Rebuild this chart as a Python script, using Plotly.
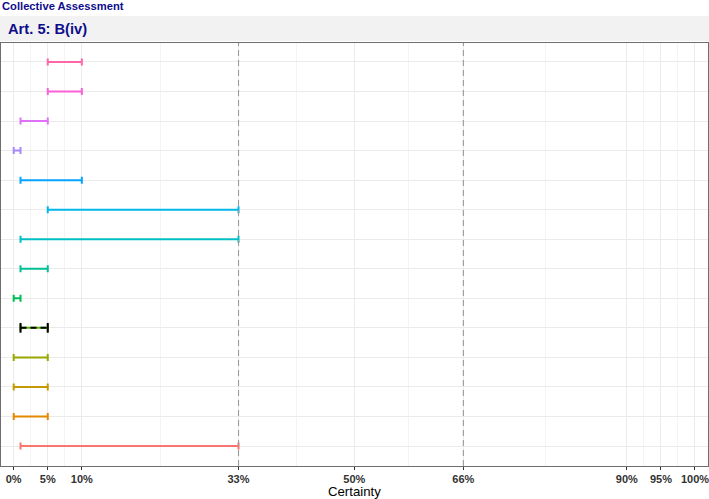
import plotly.graph_objects as go

# ---- data (top row first) ----
rows = [f"Item {i}" for i in range(1, 15)]
lows = [5, 5, 1, 0, 1, 5, 1, 1, 0, 1, 0, 0, 0, 1]
highs = [10, 10, 5, 1, 10, 33, 33, 5, 1, 5, 5, 5, 5, 33]
colors = ["#FF66A8", "#FB61D7", "#DF70F8", "#A58AFF", "#06A4FF", "#00B6EB",
          "#00BFC4", "#00C094", "#00BC56", "#53B400", "#99A800", "#C49A00",
          "#E38900", "#F8766D"]
dashed_black_row = "Item 10"   # row overlaid by a black dashed interval
tick_vals = [0, 5, 10, 33, 50, 66, 90, 95, 100]
tick_text = ["0%", "5%", "10%", "33%", "50%", "66%", "90%", "95%", "100%"]
minor_vals = [2.5, 7.5, 21.5, 41.5, 58, 78, 92.5, 97.5]
ref_lines = [33, 66]

n = len(rows)
ypos = {r: n - i for i, r in enumerate(rows)}  # top row -> highest y

fig = go.Figure()
for v in ref_lines:
    fig.add_shape(type="line", xref="x", yref="paper", x0=v, x1=v, y0=0, y1=1,
                  line=dict(color="#9A9A9A", width=1.1, dash="6px,4px"), layer="above")

for r, lo, hi, c in zip(rows, lows, highs, colors):
    fig.add_trace(go.Scatter(
        x=[lo], y=[ypos[r]], mode="markers",
        marker=dict(size=1, opacity=0, color=c),
        error_x=dict(type="data", symmetric=False, array=[hi - lo], arrayminus=[0],
                     color=c, thickness=2, width=3.5),
        showlegend=False, hoverinfo="skip"))
    if r == dashed_black_row:
        fig.add_trace(go.Scatter(
            x=[lo, hi], y=[ypos[r], ypos[r]], mode="lines",
            line=dict(color="black", width=2, dash="6px,4px"),
            showlegend=False, hoverinfo="skip"))
        fig.add_trace(go.Scatter(
            x=[lo, hi], y=[ypos[r], ypos[r]], mode="markers",
            marker=dict(symbol="line-ns", size=7, line=dict(color="black", width=2)),
            showlegend=False, hoverinfo="skip"))

# strip
fig.add_shape(type="rect", xref="paper", yref="paper", x0=-0.002, x1=1.002,
              y0=1.0047, y1=1.0638, fillcolor="#F2F2F2", line=dict(width=0), layer="below")
fig.add_annotation(text="<b>Art. 5: B(iv)</b>", xref="paper", yref="paper",
                   x=0.007, y=1.033, xanchor="left", yanchor="middle", showarrow=False,
                   font=dict(family="Liberation Sans, Arial", size=14.7, color="#0D0D8C"))
fig.add_annotation(text="<b>Collective Assessment</b>", xref="paper", yref="paper",
                   x=-0.0014, y=1.0863, xanchor="left", yanchor="middle", showarrow=False,
                   font=dict(family="Liberation Sans, Arial", size=11.2, color="#0D0D8C"))
fig.add_annotation(text="Certainty", xref="paper", yref="paper",
                   x=0.5, y=-0.0608, xanchor="center", yanchor="middle", showarrow=False,
                   font=dict(family="Liberation Sans, Arial", size=13.2, color="black"))

fig.update_layout(
    width=709, height=499,
    margin=dict(l=1, r=1, t=43, b=33),
    plot_bgcolor="white", paper_bgcolor="white",
    xaxis=dict(range=[-1.864, 101.91], tickvals=tick_vals, ticktext=tick_text,
               showgrid=True, gridcolor="#EBEBEB", gridwidth=1,
               minor=dict(tickvals=minor_vals, showgrid=True, gridcolor="#F4F4F4",
                          gridwidth=1, ticks=""),
               showline=True, mirror=True, linecolor="#6E6E6E", linewidth=1.3,
               ticks="outside", ticklen=3, tickcolor="#333333",
               tickfont=dict(family="Liberation Sans, Arial", size=11, color="#333333",
                             weight="bold"),
               ticklabeloverflow="allow",
               zeroline=False, fixedrange=True),
    yaxis=dict(range=[0.323, 14.643], tickvals=list(range(1, n + 1)),
               showticklabels=False, showgrid=True, gridcolor="#EBEBEB", gridwidth=1,
               showline=True, mirror=True, linecolor="#6E6E6E", linewidth=1.3,
               ticks="", zeroline=False, fixedrange=True),
)

fig.write_html("out.html", config={"displayModeBar": False},
               post_script="document.body.style.margin='0';document.body.style.padding='0';"
                           "document.body.style.overflow='hidden';")
